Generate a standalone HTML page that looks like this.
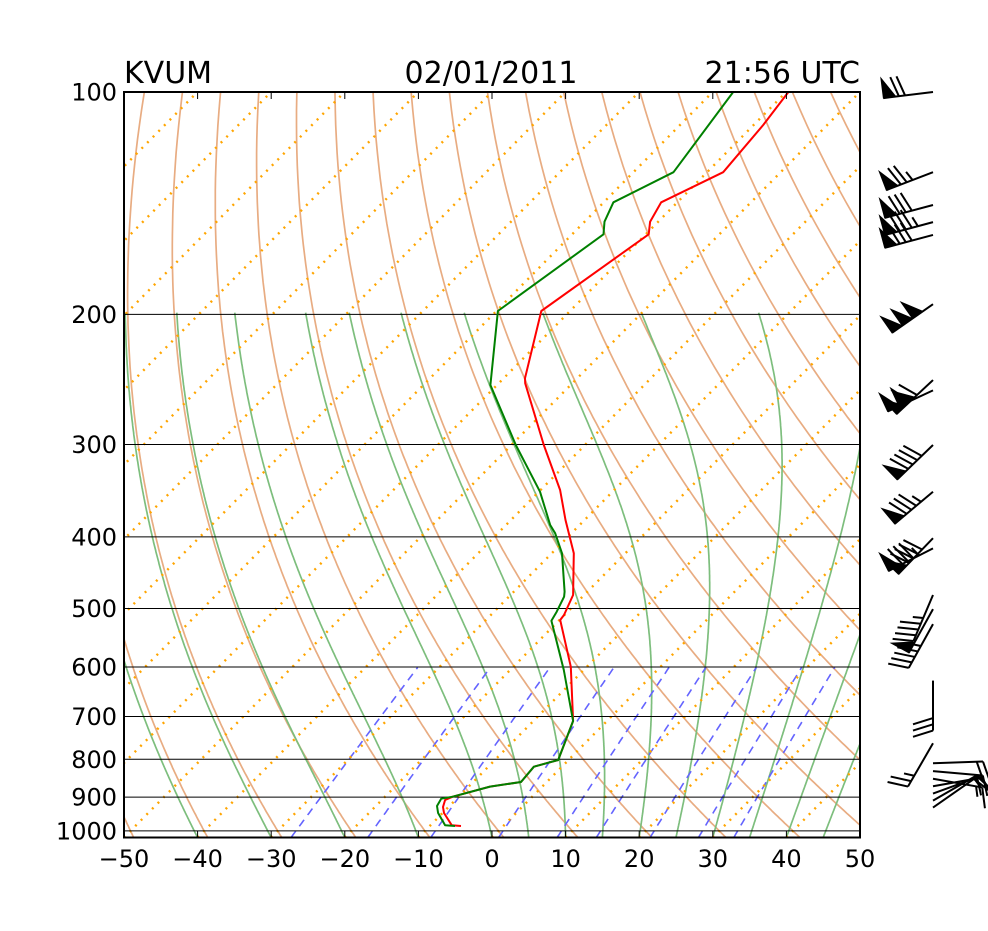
<!DOCTYPE html>
<html><head><meta charset="utf-8"><style>
html,body{margin:0;padding:0;background:#fff;}
svg{display:block;font-family:"DejaVu Sans","Liberation Sans",sans-serif;}
</style></head><body>
<svg id="skewt" width="988" height="931" viewBox="0 0 988 931" xmlns="http://www.w3.org/2000/svg">
<defs><clipPath id="plotclip"><rect x="124" y="92" width="736" height="745.5"/></clipPath></defs>
<rect x="0" y="0" width="988" height="931" fill="#fff"/>
<g id="bg" clip-path="url(#plotclip)"></g>
<g id="prof" clip-path="url(#plotclip)"></g>
<g id="axes"></g>
<g id="barbs"></g>
<text x="124" y="83" font-size="30">KVUM</text>
<text x="491" y="83" font-size="30" text-anchor="middle">02/01/2011</text>
<text x="860" y="83" font-size="30" text-anchor="end">21:56 UTC</text>
</svg>
<script>
// ---- data ----
const tempP  = [984.9,982.8,945.8,928.3,908.2,899,871,858.7,818.7,801.8,710,599.5,518.3,510.3,479.4,421,379.5,345.6,300.4,247.9,244,200.4,197.9,155.8,149.8,141,128.4,110.8,100];
const tempT  = [-5.75,-7.1,-9.8,-10.75,-11.4,-10.8,-7.1,-3.5,-3.8,-1.4,-4.6,-12.2,-19.9,-20.05,-21.5,-27.0,-32.6,-37.35,-45.6,-56.4,-57.1,-63.5,-63.9,-59.6,-61.1,-62.2,-57.8,-58.7,-59.7];
const dewP   = [984.9,982.8,945.8,925.4,904.6,899,871,858.7,818.7,801.8,710,605.7,519.4,505,482,474.6,421,395.6,385.5,347.5,300.4,249.2,197.9,155.8,149.8,141,128.4,100];
const dewT   = [-6.57,-8.0,-10.6,-11.7,-12.1,-10.8,-7.1,-3.5,-3.8,-1.4,-4.6,-12.7,-21.0,-21.5,-22.5,-23.1,-28.6,-32.2,-34.0,-39.85,-49.4,-60.9,-69.8,-65.75,-67.3,-68.7,-64.55,-67.2];
const barbP   = [100,128.4,142.2,150,156.1,193.7,245.4,253.4,300.4,347.5,401.7,414.6,479.4,501,525,626,761,810,830,850,870,890,910,930];
const barbDir = [263,249,255,255,255,235,227,245,226,230,224,243,203,209,209,180,210,88,95,100,80,70,60,55];
const barbSpd = [70,75,80,85,80,150,110,100,90,85,90,85,45,50,45,30,25,20,20,15,15,15,10,10];
const xTicks = [-50,-40,-30,-20,-10,0,10,20,30,40,50];
const xTickLabels = ["\u221250","\u221240","\u221230","\u221220","\u221210","0","10","20","30","40","50"];
const pLevels = [100,200,300,400,500,600,700,800,900,1000];
const pLabels = ["100","200","300","400","500","600","700","800","900","1000"];
const dryT0 = [-60,-50,-40,-30,-20,-10,0,10,20,30,40,50,60,70,80,90,100,110,120,130,140,150,160,170,180,190,200];
const moistT0 = [-40,-30,-20,-10,0,5,10,15,20,25,30,35,40,45];
const mixW = [0.4,1,2,4,7,10,16,24,32];
const isoT = [-150,-140,-130,-120,-110,-100,-90,-80,-70,-60,-50,-40,-30,-20,-10,0,10,20,30,40,50];

// ---- scales ----
const L=124,R=860,TOP=92,BOT=837.5,PBOT=1020.9;
function Y(p){return TOP+320.9*Math.log(p/100);}
function X(t,p){return L+(t+50)*7.36+(BOT-Y(p))*0.987;}
const NS="http://www.w3.org/2000/svg";
function mk(tag,attrs,parent){const e=document.createElementNS(NS,tag);for(const k in attrs)e.setAttribute(k,attrs[k]);parent.appendChild(e);return e;}
function ptsStr(arr){return arr.map(a=>a[0].toFixed(1)+","+a[1].toFixed(1)).join(" ");}
const bg=document.getElementById('bg'),prof=document.getElementById('prof'),axes=document.getElementById('axes'),barbs=document.getElementById('barbs');
const pGrid=[];for(let p=PBOT;p>=95;p-=5)pGrid.push(p);

// dry adiabats
dryT0.forEach(t0=>{const th=t0+273.15;const pts=pGrid.map(p=>[X(th*Math.pow(p/1000,0.2857)-273.15,p),Y(p)]);
 const e=mk('polyline',{points:ptsStr(pts),fill:'none',stroke:'rgb(232,172,130)','stroke-width':1.7},bg);
 
 });
// moist adiabats
function dTdp(p,T){const Rd=287.04,Cp=1005.7,Lv=2.501e6,eps=0.622;const es=6.112*Math.exp(17.67*(T-273.15)/(T-29.65));const rs=eps*es/(p-es);return (Rd*T+Lv*rs)/(p*(Cp+Lv*Lv*rs*eps/(Rd*T*T)));}
moistT0.forEach(t0=>{let T=t0+273.15,p=PBOT;const pts=[[X(T-273.15,p),Y(p)]];const dp=-2;
 while(p>200){const k1=dTdp(p,T);const k2=dTdp(p+dp/2,T+k1*dp/2);T+=k2*dp;p+=dp;pts.push([X(T-273.15,p),Y(p)]);}
 const e=mk('polyline',{points:ptsStr(pts),fill:'none',stroke:'rgb(125,190,125)','stroke-width':1.7},bg);
 
 });
// mixing ratio
mixW.forEach(w=>{const pts=[];for(let p=PBOT;p>=600;p-=5){const e=p*w/(622+w);const l=Math.log(e/6.112);const td=243.5*l/(17.67-l);pts.push([X(td,p),Y(p)]);}
 const e=mk('polyline',{points:ptsStr(pts),fill:'none',stroke:'rgb(100,100,255)','stroke-width':1.6,'stroke-dasharray':'8,6'},bg);
 
 });
// isotherms
isoT.forEach(t=>{const e=mk('line',{x1:X(t,PBOT),y1:Y(PBOT),x2:X(t,100),y2:Y(100),stroke:'#ffa500','stroke-width':2.4,'stroke-dasharray':'2,6'},bg);
 
 });
// pressure grid lines
pLevels.forEach(p=>{const e=mk('line',{x1:L,y1:Y(p),x2:R,y2:Y(p),stroke:'#000','stroke-width':1},bg);
 
 });
// profiles
const tl=mk('polyline',{points:ptsStr(tempP.map((p,i)=>[X(tempT[i],p),Y(p)])),fill:'none',stroke:'#ff0000','stroke-width':2,'stroke-linejoin':'round'},prof);


const dl=mk('polyline',{points:ptsStr(dewP.map((p,i)=>[X(dewT[i],p),Y(p)])),fill:'none',stroke:'#008000','stroke-width':2,'stroke-linejoin':'round'},prof);


// axes frame
const fr=mk('rect',{x:L,y:TOP,width:R-L,height:BOT-TOP,fill:'none',stroke:'#000','stroke-width':2},axes);


xTicks.forEach((t,i)=>{const x=L+(t+50)*7.36;
 const a=mk('line',{x1:x,y1:BOT,x2:x,y2:BOT-7,stroke:'#000','stroke-width':1},axes);
 
 
 const b=mk('line',{x1:x,y1:TOP,x2:x,y2:TOP+7,stroke:'#000','stroke-width':1},axes);
 
 
 const tx=mk('text',{x:x,y:867,'font-size':24,'text-anchor':'middle'},axes);tx.textContent=xTickLabels[i];
 
 });
pLevels.forEach((p,i)=>{const tx=mk('text',{x:117,y:Y(p)+8.5,'font-size':24,'text-anchor':'end'},axes);tx.textContent=pLabels[i];
 
 });
// wind barbs
function barb(p,dir,spd){const x0=933,y0=Y(p),Ln=50;const a=dir*Math.PI/180;const ux=Math.sin(a),uy=-Math.cos(a);const fx=-uy,fy=ux;
 const g=mk('g',{},barbs);
 
 
 const P=s=>[x0+ux*s,y0+uy*s];
 const tip=P(Ln);mk('line',{x1:x0,y1:y0,x2:tip[0],y2:tip[1],stroke:'#000','stroke-width':2},g);
 let r=Math.round(spd/5)*5;let s=Ln;const h=0.4*Ln,w=0.25*Ln,sp=0.125*Ln;
 let nf=Math.floor(r/50);r-=nf*50;let nb=Math.floor(r/10);r-=nb*10;let nh=r>=5?1:0;
 for(let i=0;i<nf;i++){const a1=P(s),a2=P(s-w);mk('polygon',{points:ptsStr([a1,[a1[0]+fx*h,a1[1]+fy*h],a2]),fill:'#000',stroke:'#000','stroke-width':1},g);s-=w;}
 if(nf)s-=sp*0.5;
 for(let i=0;i<nb;i++){const a1=P(s);mk('line',{x1:a1[0],y1:a1[1],x2:a1[0]+fx*h+ux*w/2,y2:a1[1]+fy*h+uy*w/2,stroke:'#000','stroke-width':2},g);s-=sp;}
 if(nh){if(nf+nb===0)s-=sp;const a1=P(s);mk('line',{x1:a1[0],y1:a1[1],x2:a1[0]+fx*h/2+ux*w/4,y2:a1[1]+fy*h/2+uy*w/4,stroke:'#000','stroke-width':2},g);}
}
barbP.forEach((p,i)=>barb(p,barbDir[i],barbSpd[i]));
</script>
</body></html>
